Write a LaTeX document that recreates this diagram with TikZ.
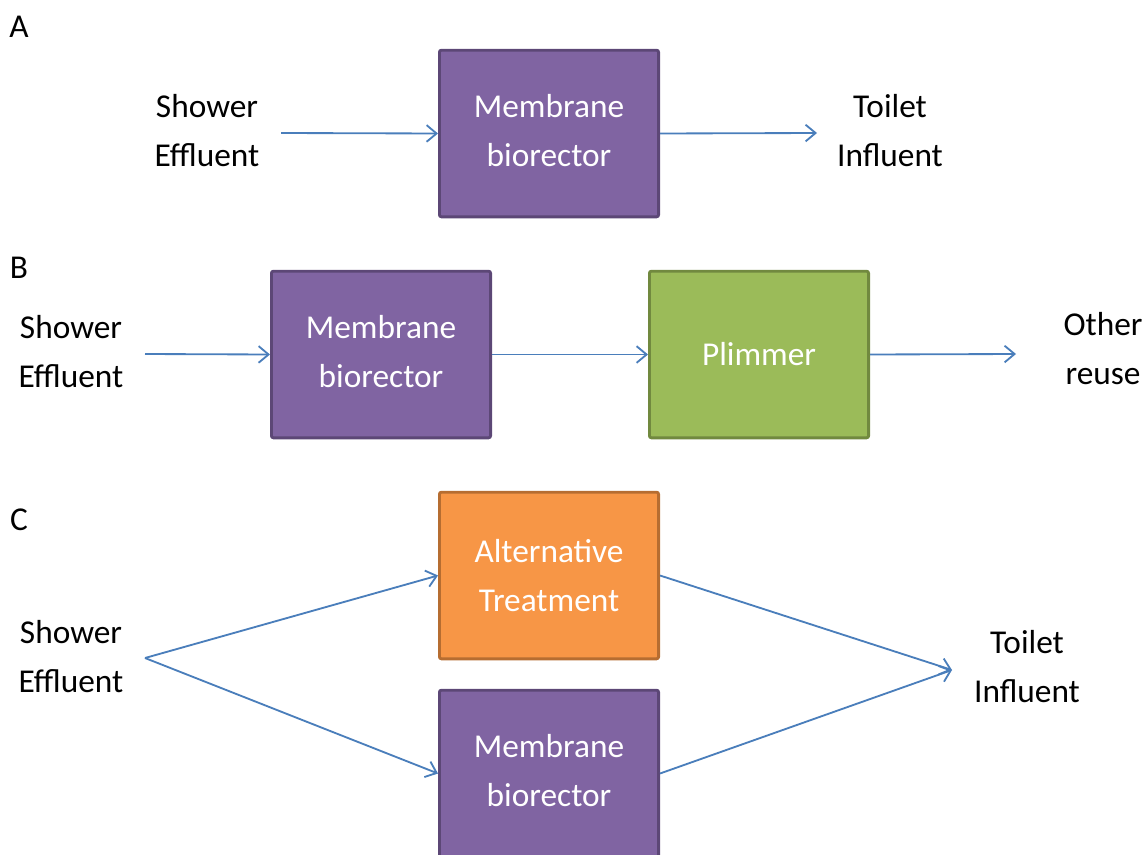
\documentclass[tikz,border=0pt]{standalone}
\usepackage{fontspec}
\setmainfont{Carlito}
\usetikzlibrary{arrows.meta}
\definecolor{mbfill}{HTML}{8064A2}
\definecolor{mbdraw}{HTML}{5C4776}
\definecolor{plfill}{HTML}{9BBB59}
\definecolor{pldraw}{HTML}{71893F}
\definecolor{atfill}{HTML}{F79646}
\definecolor{atdraw}{HTML}{B66D31}
\definecolor{arr}{HTML}{4A7EBB}
\tikzset{
  procbox/.style={rectangle, rounded corners=1.2pt, line width=1.7pt,
    minimum width=131.5pt, minimum height=100pt, inner sep=0pt,
    text=white, align=center, font=\fontsize{20pt}{29.4pt}\selectfont},
  mbbox/.style={procbox, fill=mbfill, draw=mbdraw},
  plbox/.style={procbox, fill=plfill, draw=pldraw},
  altbox/.style={procbox, fill=atfill, draw=atdraw},
  lbl/.style={align=center, inner sep=0pt, font=\fontsize{20pt}{29.4pt}\selectfont},
  panel/.style={inner sep=0pt, font=\fontsize{20pt}{29.4pt}\selectfont},
  flow/.style={draw=arr, line width=1.1pt, -{Straight Barb[length=6pt, width=10pt, line width=1.1pt]}}
}
\begin{document}
\begin{tikzpicture}[x=0.6pt, y=-0.6pt]
\useasboundingbox (0,0) rectangle (1144,854);
\clip (0,0) rectangle (1144,854);
% panel letters
\node[panel] (pA) at (19,27) {A};
\node[panel] (pB) at (19,268) {B};
\node[panel] (pC) at (19,520) {C};
% ---- A ----
\node[lbl] (shA) at (207,131) {Shower\\Effluent};
\node[mbbox] (mbA) at (549,133.5) {Membrane\\biorector\vphantom{g}};
\node[lbl] (toA) at (890,131) {Toilet\\Influent};
\coordinate (a1) at (281,133);
\coordinate (a2) at (817,133);
\draw[flow] (a1) -- (mbA.west);
\draw[flow] (mbA.east) -- (a2);
% ---- B ----
\node[lbl] (shB) at (71,352) {Shower\\Effluent};
\node[mbbox] (mbB) at (381,354.5) {Membrane\\biorector\vphantom{g}};
\node[plbox] (plB) at (759,354.5) {Plimmer};
\node[lbl] (otB) at (1103,349) {Other\\reuse};
\coordinate (b1) at (145,354);
\coordinate (b2) at (1016,354);
\draw[flow] (b1) -- (mbB.west);
\draw[flow] (mbB.east) -- (plB.west);
\draw[flow] (plB.east) -- (b2);
% ---- C ----
\node[lbl] (shC) at (71,657) {Shower\\Effluent};
\node[altbox] (atC) at (549,575.5) {Alternative\\Treatment};
\node[mbbox] (mbC) at (549,773.5) {Membrane\\biorector\vphantom{g}};
\node[lbl] (toC) at (1027,667) {Toilet\\Influent};
\coordinate (c1) at (145,658);
\coordinate (c2) at (952,670);
\draw[flow] (c1) -- (atC.west);
\draw[flow] (c1) -- (mbC.west);
\draw[flow] (atC.east) -- (c2);
\draw[flow] (mbC.east) -- (c2);
\end{tikzpicture}
\end{document}
